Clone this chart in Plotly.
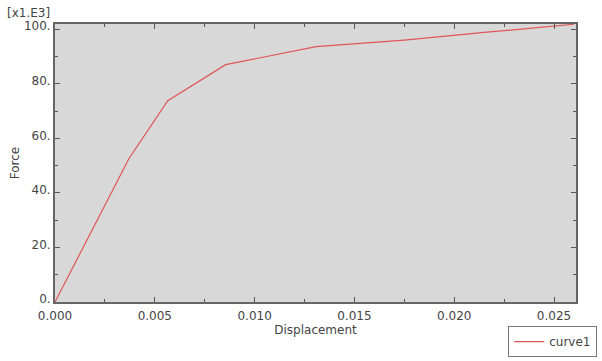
import plotly.graph_objects as go

displacement = [0.0, 0.0037, 0.00565, 0.00855, 0.01308, 0.0175, 0.0215, 0.0249, 0.0260]
force = [0.0, 52.5, 73.8, 87.0, 93.6, 96.0, 98.8, 101.0, 101.8]
x_ticks = [0.0, 0.005, 0.010, 0.015, 0.020, 0.025]
x_tick_labels = ["0.000", "0.005", "0.010", "0.015", "0.020", "0.025"]
y_ticks = [0, 20, 40, 60, 80, 100]
y_tick_labels = ["0.", "20.", "40.", "60.", "80.", "100."]

font = dict(family="DejaVu Sans, Verdana, sans-serif", size=12, color="#444444")

fig = go.Figure()
fig.add_trace(go.Scatter(x=displacement, y=force, mode="lines", name="curve1",
                         line=dict(color="#e05555", width=1.2)))

fig.update_layout(
    width=602, height=361,
    margin=dict(l=55, r=26, t=24, b=59, autoexpand=False),
    paper_bgcolor="white", plot_bgcolor="#d8d8d8",
    font=font,
    showlegend=True,
    legend=dict(xref="container", yref="container", x=0.992, y=0.011,
                xanchor="right", yanchor="bottom",
                bgcolor="white", bordercolor="#777777", borderwidth=1,
                font=dict(family="DejaVu Sans, Verdana, sans-serif", size=12, color="#444444")),
    xaxis=dict(range=[0, 0.0261], tickvals=x_ticks, ticktext=x_tick_labels, automargin=False,
               showgrid=False, zeroline=False, showline=True, linecolor="#666666", linewidth=2,
               mirror="allticks", ticks="inside", ticklen=5, tickcolor="#555555", tickwidth=1,
               ticklabelstandoff=2,
               minor=dict(dtick=0.0025, tick0=0, ticks="inside", ticklen=3, tickcolor="#555555"),
               title=dict(text="Displacement", standoff=2, font=font)),
    yaxis=dict(range=[0, 101.9], tickvals=y_ticks, ticktext=y_tick_labels, automargin=False,
               showgrid=False, zeroline=False, showline=True, linecolor="#666666", linewidth=2,
               mirror="allticks", ticks="inside", ticklen=5, tickcolor="#555555", tickwidth=1,
               ticklabelshift=-3,
               minor=dict(dtick=10, tick0=0, ticks="inside", ticklen=3, tickcolor="#555555"),
               title=dict(text="Force", standoff=2, font=font)),
)

fig.add_annotation(text="[x1.E3]", xref="paper", yref="paper", x=-0.005, y=1.0,
                   xanchor="right", yanchor="bottom", yshift=2, showarrow=False, font=font)

fig.write_html("out.html")
